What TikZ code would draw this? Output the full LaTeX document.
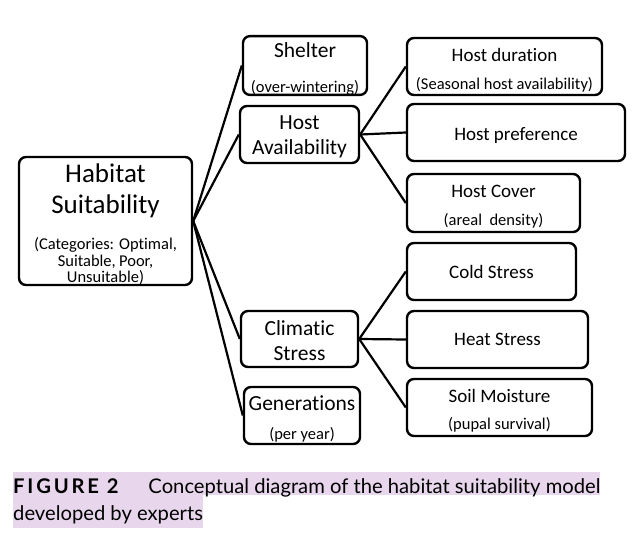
\documentclass[tikz,border=0pt]{standalone}
\usepackage{fontspec}
\setmainfont{Carlito}[Ligatures=NoCommon]
\newfontfamily\capfont{Lato}
\definecolor{capband}{RGB}{232,214,236}
\newcommand{\subf}{\fontsize{16.5}{17}\selectfont}
\newcommand{\bigf}{\fontsize{27}{31}\selectfont}
\newcommand{\bigsubf}{\fontsize{16.5}{16.5}\selectfont}
\newcommand{\topstrut}[1]{\rule{0pt}{#1}}

\begin{document}
\begin{tikzpicture}[x=1pt,y=-1pt,
    box/.style={draw, line width=2.4pt, rounded corners=7pt, align=center, inner sep=0pt},
    mainbox/.style={box, text width=170pt},
    midbox/.style={box, font=\fontsize{21.5}{25}\selectfont},
    leafbox/.style={box, font=\fontsize{19}{23}\selectfont},
    link/.style={line width=2.2pt},
    capline/.style={fill=capband, inner sep=0pt, anchor=base west, font=\capfont\fontsize{20.2}{27}\selectfont}]
    \useasboundingbox (0,0) rectangle (639,535);

    % Root
    \node[mainbox, minimum width=173pt, minimum height=128pt] (habitat) at (105.5,221)
        {{\bigf\topstrut{25pt}Habitat\\Suitability\par}\vspace{20pt}{\bigsubf (Categories: Optimal,\\Suitable, Poor,\\Unsuitable)\par}};

    % Middle level
    \node[midbox, minimum width=124pt, minimum height=57pt] (shelter) at (305,65.5)
        {\topstrut{21pt}Shelter\\[10pt]\subf (over-wintering)};
    \node[midbox, minimum width=119pt, minimum height=57pt] (hostav) at (299.5,134.5)
        {\topstrut{19pt}Host\\Availability};
    \node[midbox, minimum width=117pt, minimum height=56pt] (climatic) at (299.5,339)
        {\topstrut{19pt}Climatic\\Stress};
    \node[midbox, minimum width=116pt, minimum height=57pt] (generations) at (302,415.5)
        {\topstrut{21pt}Generations\\[4pt]\subf (per year)};

    % Host branch
    \node[leafbox, minimum width=195pt, minimum height=57pt] (hostdur) at (504.5,66.5)
        {\topstrut{20pt}Host duration\\[5pt]\subf (Seasonal host availability)};
    \node[leafbox, minimum width=218pt, minimum height=57pt] (hostpref) at (516,132.5)
        {\topstrut{18.5pt}Host preference};
    \node[leafbox, minimum width=173pt, minimum height=58pt] (hostcov) at (493.5,203)
        {\topstrut{19.5pt}Host Cover\\[5pt]\subf (areal\ \ density)};

    % Climate branch
    \node[leafbox, minimum width=169pt, minimum height=57pt] (cold) at (491.5,271.5)
        {Cold Stress};
    \node[leafbox, minimum width=181pt, minimum height=57pt] (heat) at (497.5,339.5)
        {Heat Stress};
    \node[leafbox, minimum width=185pt, minimum height=57pt] (soil) at (499.5,407.5)
        {\topstrut{19pt}Soil Moisture\\[4pt]\subf (pupal survival)};

    % Connectors
    \foreach \n in {shelter,hostav,climatic,generations}
        \draw[link] (habitat.east) -- (\n.west);
    \foreach \n in {hostdur,hostpref,hostcov}
        \draw[link] (hostav.east) -- (\n.west);
    \foreach \n in {cold,heat,soil}
        \draw[link] (climatic.east) -- (\n.west);

    % Caption
    \node[capline, text height=21pt, text depth=2pt] (cap1) at (13,493)
        {{\bfseries\addfontfeature{LetterSpace=14}FIGURE 2}\hspace{30pt}Conceptual diagram of the habitat suitability model};
    \node[capline, text height=25pt, text depth=8pt] (cap2) at (13,520)
        {developed by experts};
\end{tikzpicture}
\end{document}
